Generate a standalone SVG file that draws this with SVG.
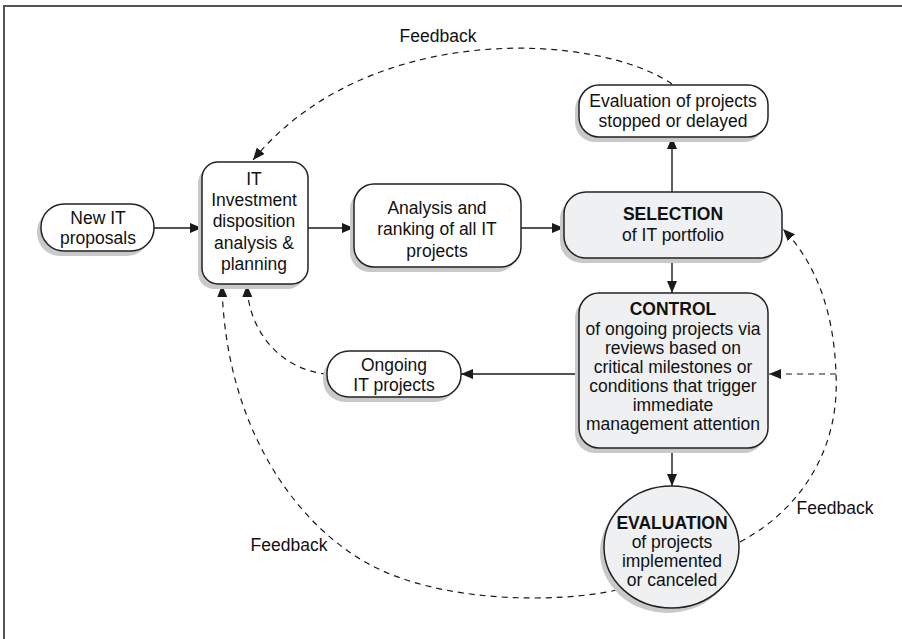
<svg xmlns="http://www.w3.org/2000/svg" width="902" height="639" viewBox="0 0 902 639">
<defs>
<marker id="ah" viewBox="0 0 12 10" refX="12" refY="5" markerWidth="12" markerHeight="10" markerUnits="userSpaceOnUse" orient="auto">
<path d="M0,0 L12,5 L0,10 z" fill="#1a1a1a"/>
</marker>
</defs>
<style>
.frame{fill:none;stroke:#555;stroke-width:2}
.box{fill:#fff;stroke:#222;stroke-width:1.5}
.gbox{fill:#eff0f2;stroke:#222;stroke-width:1.5}
.sh{fill:#c9c9c9}
.t{font-family:"Liberation Sans",Arial,sans-serif;font-size:17.5px;fill:#111;text-anchor:middle;dominant-baseline:central}
.b{font-weight:bold}
.ln{fill:none;stroke:#1a1a1a;stroke-width:1.4;marker-end:url(#ah)}
.dl{fill:none;stroke:#1a1a1a;stroke-width:1.2;stroke-dasharray:6,5;marker-end:url(#ah)}
</style>
<rect class="frame" x="4" y="6" width="1000" height="1000"/>

<g id="connectors">
<line class="ln" x1="154" y1="228" x2="202" y2="228"/>
<line class="ln" x1="308" y1="228" x2="354" y2="228"/>
<line class="ln" x1="521" y1="228" x2="564" y2="228"/>
<line class="ln" x1="672" y1="192" x2="672" y2="137"/>
<line class="ln" x1="672" y1="258" x2="672" y2="293"/>
<line class="ln" x1="579" y1="374" x2="461" y2="374"/>
<line class="ln" x1="672" y1="448" x2="672" y2="486"/>
<path class="dl" d="M672,84 C600,34 370,18 253,160"/>
<path class="dl" d="M327,374 C280,370 248,330 247,285"/>
<path class="dl" d="M617,590 C560,603 440,604 367,563 C290,520 225,420 222,285"/>
<path class="dl" d="M740,542 C800,510 840,450 836,374 C834,310 815,262 783,229"/>
<path class="dl" d="M836,374 L769,374"/>
</g>

<g id="labels">
<text class="t" x="438" y="36">Feedback</text>
<text class="t" x="289" y="545">Feedback</text>
<text class="t" x="835" y="508">Feedback</text>
</g>

<g id="new-it">
<rect class="sh" x="37" y="209" width="113" height="47" rx="23"/>
<rect class="box" x="41" y="204" width="113" height="47" rx="23"/>
<text class="t" x="98" y="218">New IT</text>
<text class="t" x="98" y="238">proposals</text>
</g>

<g id="it-investment">
<rect class="sh" x="198" y="167" width="106" height="122" rx="16"/>
<rect class="box" x="202" y="162" width="106" height="122" rx="16"/>
<text class="t" x="254" y="179">IT</text>
<text class="t" x="254" y="200">Investment</text>
<text class="t" x="254" y="221">disposition</text>
<text class="t" x="254" y="243">analysis &amp;</text>
<text class="t" x="254" y="264">planning</text>
</g>

<g id="analysis">
<rect class="sh" x="350" y="189" width="167" height="83" rx="20"/>
<rect class="box" x="354" y="184" width="167" height="83" rx="20"/>
<text class="t" x="437" y="208">Analysis and</text>
<text class="t" x="437" y="229">ranking of all IT</text>
<text class="t" x="437" y="251">projects</text>
</g>

<g id="selection">
<rect class="sh" x="560" y="197" width="218" height="66" rx="22"/>
<rect class="gbox" x="564" y="192" width="218" height="66" rx="22"/>
<text class="t b" x="673" y="214">SELECTION</text>
<text class="t" x="673" y="235">of IT portfolio</text>
</g>

<g id="eval-stopped">
<rect class="sh" x="575" y="90" width="189" height="52" rx="20"/>
<rect class="box" x="579" y="85" width="189" height="52" rx="20"/>
<text class="t" x="673" y="101">Evaluation of projects</text>
<text class="t" x="673" y="121">stopped or delayed</text>
</g>

<g id="control">
<rect class="sh" x="575" y="298" width="189" height="155" rx="20"/>
<rect class="gbox" x="579" y="293" width="189" height="155" rx="20"/>
<text class="t b" x="673" y="309">CONTROL</text>
<text class="t" x="673" y="329">of ongoing projects via</text>
<text class="t" x="673" y="348">reviews based on</text>
<text class="t" x="673" y="367">critical milestones or</text>
<text class="t" x="673" y="386">conditions that trigger</text>
<text class="t" x="673" y="405">immediate</text>
<text class="t" x="673" y="424">management attention</text>
</g>

<g id="ongoing">
<rect class="sh" x="323" y="356" width="134" height="46" rx="22"/>
<rect class="box" x="327" y="351" width="134" height="46" rx="22"/>
<text class="t" x="394" y="365">Ongoing</text>
<text class="t" x="394" y="385">IT projects</text>
</g>

<g id="evaluation">
<ellipse class="sh" cx="667.5" cy="552" rx="67.5" ry="61"/>
<ellipse class="gbox" cx="671.5" cy="547" rx="67.5" ry="61"/>
<text class="t b" x="672" y="523">EVALUATION</text>
<text class="t" x="672" y="542">of projects</text>
<text class="t" x="672" y="561">implemented</text>
<text class="t" x="672" y="580">or canceled</text>
</g>
</svg>
